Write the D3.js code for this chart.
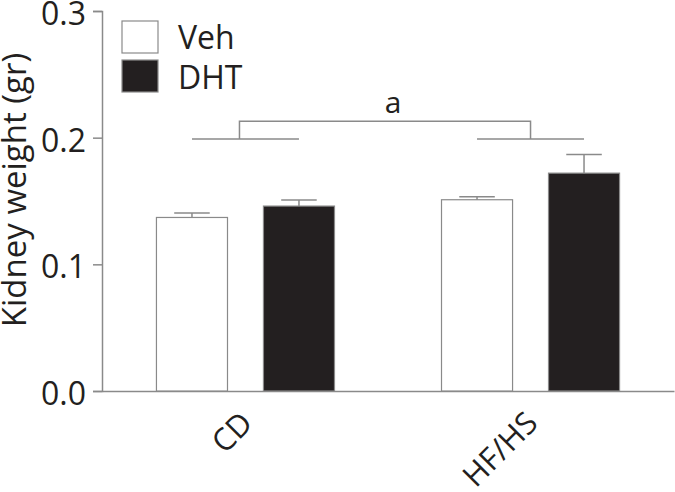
<!DOCTYPE html>
<html>
<head>
<meta charset="utf-8">
<script src="https://cdn.jsdelivr.net/npm/d3@7"></script>
<style>
  html, body { margin: 0; padding: 0; background: #fff; }
  svg { display: block; font-family: "Open Sans", "Liberation Sans", sans-serif; }
</style>
</head>
<body>
<svg id="chart" width="675" height="492"></svg>
<script>
// ---- data ----
const categories = ["CD", "HF/HS"];
const series = ["Veh", "DHT"];
const vehValues = [0.137, 0.151];
const dhtValues = [0.146, 0.172];
const vehErrors = [0.0035, 0.0024];
const dhtErrors = [0.0047, 0.0148];
const yTicks = [0.0, 0.1, 0.2, 0.3];
const yLabel = "Kidney weight (gr)";
const sigLabel = "a";
const bracketLow = 0.199;
const bracketHigh = 0.213;

const rows = [];
categories.forEach((c, i) => {
  rows.push({cat: c, s: "Veh", v: vehValues[i], e: vehErrors[i]});
  rows.push({cat: c, s: "DHT", v: dhtValues[i], e: dhtErrors[i]});
});

const svg = d3.select("#chart");
const gray = "#8a8a8a";
const ink = "#231f20";
const fillOf = {Veh: "#ffffff", DHT: ink};

const y = d3.scaleLinear().domain([0, 0.3]).range([391, 11]);
const x0 = d3.scaleBand().domain(categories).range([102, 674]).paddingInner(0.3754).paddingOuter(0.191);
const x1 = d3.scaleBand().domain(series).range([0, x0.bandwidth()]).paddingInner(0.336).paddingOuter(0);

// y axis
const yAxis = d3.axisLeft(y).tickValues(yTicks).tickFormat(d3.format(".1f")).tickSize(9).tickPadding(7);
const gy = svg.append("g").attr("transform", "translate(102,0)").call(yAxis);
gy.select(".domain").attr("stroke", gray).attr("stroke-width", 1.5);
gy.selectAll(".tick line").attr("stroke", gray).attr("stroke-width", 1.5);
gy.selectAll(".tick text").attr("font-size", 32).attr("fill", ink).attr("dy", "0.42em")
  .attr("font-family", "'Open Sans', sans-serif");

// x axis baseline
const xAxis = d3.axisBottom(x0).tickSize(0).tickPadding(0);
const gx = svg.append("g").attr("transform", `translate(0,${y(0)})`).call(xAxis);
gx.select(".domain").attr("stroke", gray).attr("stroke-width", 1.5);
gx.selectAll(".tick text")
  .attr("font-size", 31).attr("fill", ink)
  .attr("font-family", "'Open Sans', sans-serif")
  .attr("text-anchor", "end")
  .attr("y", 0).attr("dy", "0")
  .attr("transform", "translate(9,34) rotate(-45)");

// bars
const g = svg.append("g");
g.selectAll("rect.bar").data(rows).join("rect")
  .attr("class", "bar")
  .attr("x", d => x0(d.cat) + x1(d.s))
  .attr("y", d => y(d.v))
  .attr("width", x1.bandwidth())
  .attr("height", d => y(0) - y(d.v))
  .attr("fill", d => fillOf[d.s])
  .attr("stroke", gray).attr("stroke-width", 1.2);

// error bars
const capW = x1.bandwidth() / 2;
rows.forEach(d => {
  const cx = x0(d.cat) + x1(d.s) + x1.bandwidth() / 2;
  g.append("line").attr("x1", cx).attr("x2", cx).attr("y1", y(d.v)).attr("y2", y(d.v + d.e))
    .attr("stroke", gray).attr("stroke-width", 1.5);
  g.append("line").attr("x1", cx - capW / 2).attr("x2", cx + capW / 2)
    .attr("y1", y(d.v + d.e)).attr("y2", y(d.v + d.e))
    .attr("stroke", gray).attr("stroke-width", 1.5);
});

// significance bracket
const bk = svg.append("g").attr("stroke", gray).attr("stroke-width", 1.5).attr("fill", "none");
const centers = categories.map(c => x0(c) + x0.bandwidth() / 2);
categories.forEach((c, i) => {
  const a = x0(c) + x1("Veh") + x1.bandwidth() / 2;
  const b = x0(c) + x1("DHT") + x1.bandwidth() / 2;
  bk.append("line").attr("x1", a).attr("x2", b).attr("y1", y(bracketLow)).attr("y2", y(bracketLow));
});
const leftV = centers[0] - 6, rightV = centers[1];
bk.append("path").attr("d", `M${leftV},${y(bracketLow)}V${y(bracketHigh)}H${rightV}V${y(bracketLow)}`);
svg.append("text").attr("x", (leftV + rightV) / 2 + 8).attr("y", y(bracketHigh) - 8)
  .attr("text-anchor", "middle").attr("font-size", 30).attr("fill", ink).text(sigLabel);

// y label
svg.append("text").attr("transform", "translate(26,190) rotate(-90)")
  .attr("text-anchor", "middle").attr("font-size", 33)
  .attr("fill", ink).text(yLabel);

// legend
const lg = svg.append("g");
series.forEach((s, i) => {
  lg.append("rect").attr("x", 122).attr("y", 21 + i * 39).attr("width", 36).attr("height", 32)
    .attr("fill", fillOf[s]).attr("stroke", gray).attr("stroke-width", 1.2);
  lg.append("text").attr("x", 178).attr("y", 49 + i * 40).attr("font-size", 32)
    .attr("fill", ink).text(s);
});
</script>
</body>
</html>
